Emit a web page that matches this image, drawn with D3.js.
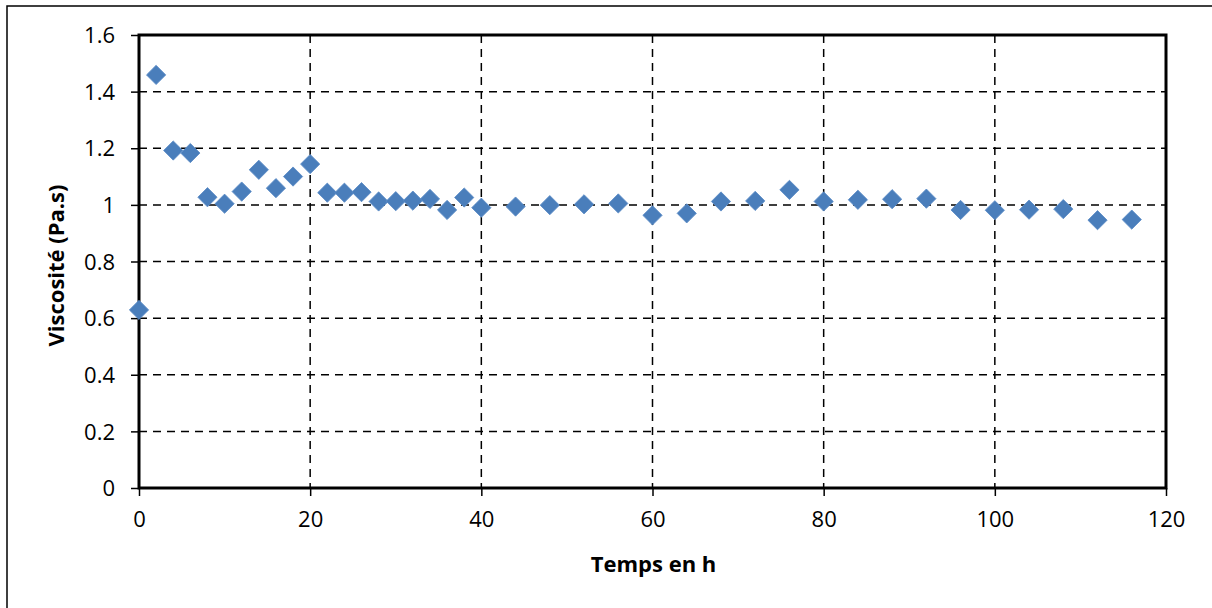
<!DOCTYPE html>
<html>
<head>
<meta charset="utf-8">
<script src="https://cdn.jsdelivr.net/npm/d3@7"></script>
<style>
  html, body { margin: 0; padding: 0; background: #fff; }
  svg { display: block; }
  text { font-family: "Open Sans", "Noto Sans", sans-serif; fill: #000; }
</style>
</head>
<body>
<script>
// Data
const timeHours = [0, 2, 4, 6, 8, 10, 12, 14, 16, 18, 20, 22, 24, 26, 28, 30, 32, 34, 36, 38, 40,
                   44, 48, 52, 56, 60, 64, 68, 72, 76, 80, 84, 88, 92, 96, 100, 104, 108, 112, 116];
const viscosity = [0.629, 1.459, 1.192, 1.183, 1.027, 1.004, 1.047, 1.124, 1.059, 1.100, 1.144, 1.043, 1.043, 1.045, 1.012, 1.013, 1.015, 1.021, 0.982, 1.026, 0.990,
                   0.994, 0.999, 1.002, 1.005, 0.963, 0.970, 1.012, 1.014, 1.053, 1.012, 1.018, 1.020, 1.022, 0.982, 0.981, 0.983, 0.985, 0.946, 0.948];
const xTicks = [0, 20, 40, 60, 80, 100, 120];
const yTicks = [0, 0.2, 0.4, 0.6, 0.8, 1.0, 1.2, 1.4, 1.6];
const xTitle = "Temps en h";
const yTitle = "Viscosité (Pa.s)";

(function () {
const W = 1212, H = 608;
const svg = d3.select("body").append("svg").attr("width", W).attr("height", H);

// outer chart border
svg.append("rect").attr("x", 7).attr("y", 6).attr("width", W + 10).attr("height", H + 10)
  .attr("fill", "none").attr("stroke", "#000").attr("stroke-width", 1.5);

const mL = 139, mR = 1166, mT = 35, mB = 488;
const x = d3.scaleLinear().domain([0, 120]).range([mL, mR]);
const y = d3.scaleLinear().domain([0, 1.6]).range([mB, mT]);

// gridlines
svg.append("g").selectAll("line").data(yTicks.filter(d => d > 0 && d < 1.6)).join("line")
  .attr("x1", mL).attr("x2", mR).attr("y1", d => y(d)).attr("y2", d => y(d))
  .attr("stroke", "#000").attr("stroke-width", 1.5).attr("stroke-dasharray", "8,6");
svg.append("g").selectAll("line").data(xTicks.filter(d => d > 0 && d < 120)).join("line")
  .attr("y1", mT).attr("y2", mB).attr("x1", d => x(d)).attr("x2", d => x(d))
  .attr("stroke", "#000").attr("stroke-width", 1.5).attr("stroke-dasharray", "8,6");

// axes
const xAxis = d3.axisBottom(x).tickValues(xTicks).tickSize(8).tickPadding(15).tickFormat(d3.format("d"));
const yAxis = d3.axisLeft(y).tickValues(yTicks).tickSize(8).tickPadding(16).tickFormat(d => String(+d.toFixed(1)));

const gx = svg.append("g").attr("transform", `translate(0,${mB})`).call(xAxis);
const gy = svg.append("g").attr("transform", `translate(${mL},0)`).call(yAxis);
[gx, gy].forEach(g => {
  g.select(".domain").remove();
  g.selectAll(".tick line").attr("stroke", "#000").attr("stroke-width", 1.5);
  g.selectAll(".tick text").style("font-size", "22px").attr("fill", "#000");
});
gy.selectAll(".tick text").attr("dy", "0.35em");

// plot frame
svg.append("rect").attr("x", mL).attr("y", mT).attr("width", mR - mL).attr("height", mB - mT)
  .attr("fill", "none").attr("stroke", "#000").attr("stroke-width", 3);

// markers
const pts = timeHours.map((t, i) => ({ t, v: viscosity[i] }));
const diamond = d3.symbol().type(d3.symbolSquare).size(185);
svg.append("g").selectAll("path").data(pts).join("path")
  .attr("d", diamond)
  .attr("transform", d => `translate(${x(d.t)},${y(d.v)}) rotate(45)`)
  .attr("fill", "#4A7EBB").attr("stroke", "#5B8BC6").attr("stroke-width", 0.8);

// titles
svg.append("text").attr("x", (mL + mR) / 2 + 1).attr("y", 572)
  .attr("text-anchor", "middle").style("font-size", "22px").style("font-weight", "bold").text(xTitle);
svg.append("text").attr("transform", `translate(64,${(mT + mB) / 2 + 4}) rotate(-90)`)
  .attr("text-anchor", "middle").style("font-size", "22px").style("font-weight", "bold").text(yTitle);
})();
</script>
</body>
</html>
